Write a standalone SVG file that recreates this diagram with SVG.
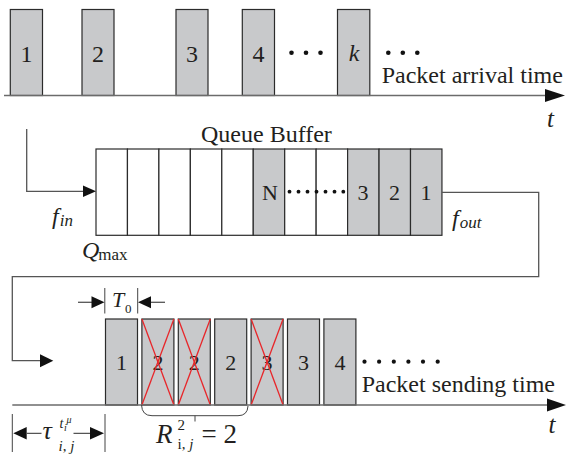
<svg xmlns="http://www.w3.org/2000/svg" width="567" height="455" viewBox="0 0 567 455">
<style>
.box{fill:#c8c9cb;stroke:#2b2b2b;stroke-width:1.2}
.cell{fill:#fff;stroke:#2b2b2b;stroke-width:1.2}
.ln{fill:none;stroke:#555;stroke-width:1.3}
.ax{fill:none;stroke:#6b6b6b;stroke-width:1.5}
.tk{fill:none;stroke:#444;stroke-width:1}
.ah{fill:#111}
.x{stroke:#e8262a;stroke-width:1.3}
.t{font-family:"Liberation Serif","Times New Roman",serif;fill:#231f20}
.n{font-size:24px;text-anchor:middle}
.m{font-size:22px;text-anchor:middle}
.i{font-style:italic}
.dot{fill:#111}
</style>

<g id="arrival">
  <g id="pa1"><rect class="box" x="10.3" y="9.5" width="32.2" height="86"/><text class="t n" x="26.4" y="62">1</text></g>
  <g id="pa2"><rect class="box" x="82" y="9.5" width="32" height="86"/><text class="t n" x="98" y="62">2</text></g>
  <g id="pa3"><rect class="box" x="176" y="9.5" width="32" height="86"/><text class="t n" x="192" y="62">3</text></g>
  <g id="pa4"><rect class="box" x="242.3" y="9.5" width="32.2" height="86"/><text class="t n" x="258.4" y="62">4</text></g>
  <g id="pak"><rect class="box" x="337.5" y="9.5" width="32.3" height="86"/><text class="t n i" x="354" y="61">k</text></g>
  <g id="dotsA">
    <circle class="dot" cx="291.5" cy="52.7" r="2.3"/><circle class="dot" cx="306" cy="52.7" r="2.3"/><circle class="dot" cx="320.5" cy="52.7" r="2.3"/>
    <circle class="dot" cx="388.3" cy="52.7" r="2.3"/><circle class="dot" cx="402.8" cy="52.7" r="2.3"/><circle class="dot" cx="417.3" cy="52.7" r="2.3"/>
  </g>
  <text class="t" x="381.7" y="83.3" font-size="24">Packet arrival time</text>
  <text class="t i" x="547" y="127" font-size="25">t</text>
</g>

<g id="queue">
  <text class="t" x="201" y="142" font-size="24">Queue Buffer</text>
  <rect class="cell" x="96" y="149" width="31.45" height="86.3"/>
  <rect class="cell" x="127.45" y="149" width="31.45" height="86.3"/>
  <rect class="cell" x="158.9" y="149" width="31.45" height="86.3"/>
  <rect class="cell" x="190.35" y="149" width="31.45" height="86.3"/>
  <rect class="cell" x="221.8" y="149" width="31.45" height="86.3"/>
  <rect class="box" x="253.25" y="149" width="31.45" height="86.3"/>
  <rect class="cell" x="284.7" y="149" width="31.45" height="86.3"/>
  <rect class="cell" x="316.15" y="149" width="31.45" height="86.3"/>
  <rect class="box" x="347.6" y="149" width="31.45" height="86.3"/>
  <rect class="box" x="379.05" y="149" width="31.45" height="86.3"/>
  <rect class="box" x="410.5" y="149" width="31.45" height="86.3"/>
  <text class="t m" x="270" y="200">N</text>
  <text class="t m" x="363" y="200">3</text>
  <text class="t m" x="394.5" y="200">2</text>
  <text class="t m" x="426" y="200">1</text>
  <g id="dotsQ">
    <circle class="dot" cx="289.5" cy="191.7" r="1.9"/><circle class="dot" cx="298.5" cy="191.7" r="1.9"/><circle class="dot" cx="307.5" cy="191.7" r="1.9"/>
    <circle class="dot" cx="316.5" cy="191.7" r="1.9"/><circle class="dot" cx="325.5" cy="191.7" r="1.9"/><circle class="dot" cx="334.5" cy="191.7" r="1.9"/><circle class="dot" cx="343.3" cy="191.7" r="1.9"/>
  </g>
  <text class="t i" x="52" y="224" font-size="24">f<tspan font-size="17" dy="2" dx="1">in</tspan></text>
  <text class="t i" x="82" y="258" font-size="24">Q<tspan font-style="normal" font-size="17" dy="2" dx="-1">max</tspan></text>
  <text class="t i" x="452" y="226" font-size="24">f<tspan font-size="17" dy="2" dx="1">out</tspan></text>
</g>

<g id="sending">
  <g id="ps1"><rect class="box" x="105.5" y="319" width="32" height="86"/><text class="t m" x="121.5" y="370">1</text></g>
  <g id="ps2"><rect class="box" x="141.9" y="319" width="32" height="86"/><text class="t m" x="157.9" y="370">2</text><line class="x" x1="141.9" y1="319" x2="173.9" y2="405"/><line class="x" x1="173.9" y1="319" x2="141.9" y2="405"/></g>
  <g id="ps3"><rect class="box" x="178.3" y="319" width="32" height="86"/><text class="t m" x="194.3" y="370">2</text><line class="x" x1="178.3" y1="319" x2="210.3" y2="405"/><line class="x" x1="210.3" y1="319" x2="178.3" y2="405"/></g>
  <g id="ps4"><rect class="box" x="214.7" y="319" width="32" height="86"/><text class="t m" x="230.7" y="370">2</text></g>
  <g id="ps5"><rect class="box" x="251.1" y="319" width="32" height="86"/><text class="t m" x="267.1" y="370">3</text><line class="x" x1="251.1" y1="319" x2="283.1" y2="405"/><line class="x" x1="283.1" y1="319" x2="251.1" y2="405"/></g>
  <g id="ps6"><rect class="box" x="287.5" y="319" width="32" height="86"/><text class="t m" x="303.5" y="370">3</text></g>
  <g id="ps7"><rect class="box" x="323.9" y="319" width="32" height="86"/><text class="t m" x="339.9" y="370">4</text></g>
  <g id="dotsS">
    <circle class="dot" cx="364.5" cy="361.7" r="2.1"/><circle class="dot" cx="379.1" cy="361.7" r="2.1"/><circle class="dot" cx="393.8" cy="361.7" r="2.1"/>
    <circle class="dot" cx="408.4" cy="361.7" r="2.1"/><circle class="dot" cx="423" cy="361.7" r="2.1"/><circle class="dot" cx="437.7" cy="361.7" r="2.1"/>
  </g>
  <text class="t" x="361.7" y="391.7" font-size="24">Packet sending time</text>
  <text class="t i" x="548.5" y="433" font-size="25">t</text>
  <text class="t i" x="112" y="307" font-size="22">T</text>
  <text class="t" x="125" y="313" font-size="13">0</text>
  <text class="t i" x="42.5" y="439" font-size="26">τ</text>
  <text class="t i" x="59.5" y="427.5" font-size="14">t</text>
  <text class="t i" x="64" y="430.5" font-size="10">i</text>
  <text class="t i" x="66.5" y="423" font-size="10">μ</text>
  <text class="t i" x="58.5" y="450.5" font-size="15">i<tspan font-style="normal">, </tspan>j</text>
  <text class="t i" x="156" y="443.3" font-size="27">R</text>
  <text class="t" x="177.5" y="430" font-size="15">2</text>
  <text class="t" x="177.5" y="448.5" font-size="15">i, <tspan font-style="italic">j</tspan></text>
  <text class="t" x="201.5" y="443.3" font-size="27">= 2</text>
</g>

<g id="connectors">
  <path class="ax" d="M4 95.5 H548"/>
  <polygon class="ah" points="545,89 565,95.5 545,102"/>
  <path class="ax" d="M12.3 405 H550"/>
  <polygon class="ah" points="547,398.5 566,405 547,411.5"/>
  <path class="ln" d="M26.7 129 V191.3 H85"/>
  <polygon class="ah" points="83,185.5 96,191.3 83,197.1"/>
  <path class="ln" d="M442 192.3 H538.7 V276.7 H12.3 V360.7 H41"/>
  <polygon class="ah" points="40,354.2 53.3,360.7 40,367.2"/>
  <path class="tk" d="M104.8 288 V313.5 M137.7 288 V313.5"/>
  <path class="ln" d="M78 302.3 H92"/>
  <polygon class="ah" points="91.5,296.3 104.5,302.3 91.5,308.3"/>
  <path class="ln" d="M151 302.3 H165"/>
  <polygon class="ah" points="151,296.3 138,302.3 151,308.3"/>
  <path class="tk" d="M12.3 414 V452 M105 414 V452"/>
  <polygon class="ah" points="26.7,427 13.3,433.3 26.7,439.6"/>
  <path class="ln" d="M26 433.3 H41.5 M73.5 433.3 H91"/>
  <polygon class="ah" points="90,427 104,433.3 90,439.6"/>
  <path class="tk" d="M141.5 405 Q142 415.7 152 415.7 H238 Q247.5 415.7 248 406 M195 415.7 V421.5"/>
</g>
</svg>
